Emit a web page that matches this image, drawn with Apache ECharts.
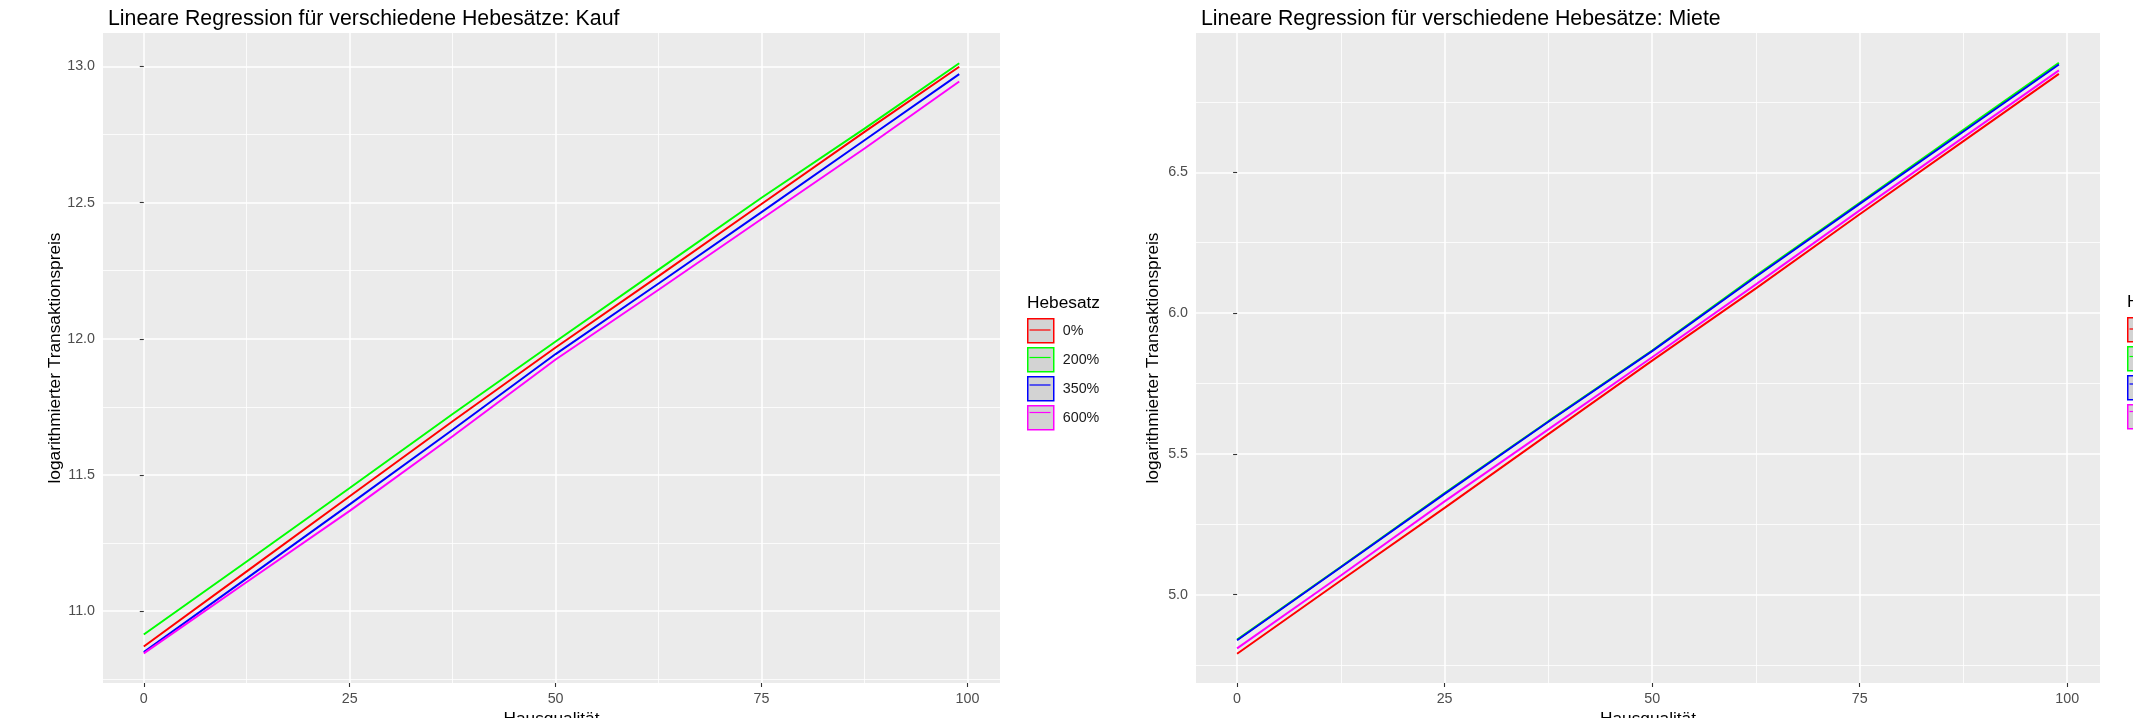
<!DOCTYPE html>
<html>
<head>
<meta charset="utf-8">
<script src="https://cdn.jsdelivr.net/npm/echarts@6/dist/echarts.min.js"></script>
<style>
  html, body { margin: 0; padding: 0; background: #ffffff; }
  #chart { width: 2133px; height: 718px; }
</style>
</head>
<body>
<div id="chart"></div>
<script>
// ---- data ----
const hausqualitaet = [0, 12.5, 25, 37.5, 50, 62.5, 75, 87.5, 99];
const hebesaetze = ['0%', '200%', '350%', '600%'];
const seriesColors = ['#FF0000', '#00FF00', '#0000FF', '#FF00FF'];

const kauf_0   = [10.870, 11.146, 11.422, 11.697, 11.968, 12.230, 12.495, 12.760, 12.999];
const kauf_200 = [10.914, 11.182, 11.452, 11.724, 11.990, 12.254, 12.518, 12.772, 13.012];
const kauf_350 = [10.850, 11.120, 11.392, 11.666, 11.944, 12.203, 12.465, 12.729, 12.972];
const kauf_600 = [10.845, 11.107, 11.368, 11.642, 11.924, 12.180, 12.440, 12.699, 12.945];

const miete_0   = [4.790, 5.050, 5.308, 5.570, 5.831, 6.088, 6.351, 6.611, 6.850];
const miete_200 = [4.840, 5.099, 5.361, 5.616, 5.867, 6.133, 6.392, 6.651, 6.889];
const miete_350 = [4.838, 5.097, 5.358, 5.614, 5.865, 6.129, 6.388, 6.645, 6.883];
const miete_600 = [4.809, 5.068, 5.331, 5.587, 5.843, 6.102, 6.365, 6.624, 6.862];

const xTicks = [0, 25, 50, 75, 100];
const xMinor = [12.5, 37.5, 62.5, 87.5];
const kaufTicks = [11.0, 11.5, 12.0, 12.5, 13.0];
const kaufMinor = [10.75, 11.25, 11.75, 12.25, 12.75];
const mieteTicks = [5.0, 5.5, 6.0, 6.5];
const mieteMinor = [4.75, 5.25, 5.75, 6.25, 6.75];

const titles = ['Lineare Regression für verschiedene Hebesätze: Kauf',
                'Lineare Regression für verschiedene Hebesätze: Miete'];
const xTitle = 'Hausqualität';
const yTitle = 'logarithmierter Transaktionspreis';
const legendTitle = 'Hebesatz';

// ---- chart ----
const FONT = '"Liberation Sans", Arial, sans-serif';
const chart = echarts.init(document.getElementById('chart'), null, { renderer: 'canvas' });

function pairs(ys) { return hausqualitaet.map((x, i) => [x, ys[i]]); }

const grids = [
  { left: 103, top: 33, width: 897, height: 650 },
  { left: 1196, top: 33, width: 904, height: 650 }
];
const yRanges = [[10.736, 13.123], [4.686, 6.995]];
const yMajor = [kaufTicks, mieteTicks];
const yMinorV = [kaufMinor, mieteMinor];

const xAxes = [], yAxes = [];
grids.forEach((g, gi) => {
  xAxes.push({
    type: 'value', gridIndex: gi, position: 'bottom', min: -4.95, max: 103.95,
    axisLine: { show: false },
    axisTick: { show: true, length: 4, customValues: xTicks, lineStyle: { color: '#333333', width: 1.1 } },
    axisLabel: { show: true, customValues: xTicks, margin: 9, color: '#4d4d4d', fontSize: 14.3, fontFamily: FONT,
                 formatter: v => String(Math.round(v)) },
    splitLine: { show: true, lineStyle: { color: '#ffffff', width: 1.5 } },
    name: xTitle, nameLocation: 'middle', nameGap: 27,
    nameTextStyle: { color: '#000000', fontSize: 17.3, fontFamily: FONT }
  });
  xAxes.push({
    type: 'value', gridIndex: gi, position: 'top', min: -4.95, max: 103.95,
    axisLine: { show: false },
    axisTick: { show: false, customValues: xMinor },
    axisLabel: { show: false, customValues: xMinor },
    splitLine: { show: true, lineStyle: { color: '#ffffff', width: 0.8 } }
  });
  yAxes.push({
    type: 'value', gridIndex: gi, position: 'left', min: yRanges[gi][0], max: yRanges[gi][1],
    axisLine: { show: false },
    axisTick: { show: true, length: 4, customValues: yMajor[gi], lineStyle: { color: '#333333', width: 1.1 } },
    axisLabel: { show: true, customValues: yMajor[gi], margin: 8, color: '#4d4d4d', fontSize: 14.3, fontFamily: FONT,
                 formatter: v => v.toFixed(1) },
    splitLine: { show: true, lineStyle: { color: '#ffffff', width: 1.5 } },
    name: yTitle, nameLocation: 'middle', nameGap: 34, nameRotate: 90,
    nameTextStyle: { color: '#000000', fontSize: 17.3, fontFamily: FONT }
  });
  yAxes.push({
    type: 'value', gridIndex: gi, position: 'right', min: yRanges[gi][0], max: yRanges[gi][1],
    axisLine: { show: false },
    axisTick: { show: false, customValues: yMinorV[gi] },
    axisLabel: { show: false, customValues: yMinorV[gi] },
    splitLine: { show: true, lineStyle: { color: '#ffffff', width: 0.8 } }
  });
});

const kaufSets = [kauf_0, kauf_200, kauf_350, kauf_600];
const mieteSets = [miete_0, miete_200, miete_350, miete_600];
const series = [];
[kaufSets, mieteSets].forEach((sets, gi) => {
  sets.forEach((ys, k) => {
    series.push({
      type: 'line', name: hebesaetze[k],
      xAxisIndex: gi * 2, yAxisIndex: gi * 2,
      data: pairs(ys),
      symbol: 'none', smooth: false, animation: false,
      color: seriesColors[k],
      lineStyle: { color: seriesColors[k], width: 2 },
      emphasis: { disabled: true }
    });
  });
});

// legend: gray keys with coloured border (ECharts legend) + coloured line inside each key
const KEY_W = 26, KEY_H = 24, KEY_GAP = 3.5;
function makeLegend(left, top) {
  return {
    data: hebesaetze.map((n, k) => ({
      name: n,
      itemStyle: { color: '#d3d3d3', borderColor: seriesColors[k], borderWidth: 1.5 }
    })),
    orient: 'vertical', left: left, top: top, padding: 0,
    itemWidth: KEY_W, itemHeight: KEY_H, itemGap: KEY_GAP, icon: 'rect', selectedMode: false,
    textStyle: { color: '#1a1a1a', fontSize: 14.3, fontFamily: FONT, padding: [0, 0, 0, 4] }
  };
}
function keyLines(left, top) {
  return hebesaetze.map((n, k) => {
    const y = top + k * (KEY_H + KEY_GAP) + KEY_H / 2;
    return {
      type: 'line', silent: true, z: 200,
      shape: { x1: left + 2.5, y1: y, x2: left + KEY_W - 2.5, y2: y },
      style: { stroke: seriesColors[k], lineWidth: 1.2 }
    };
  });
}
const LEG = [[1027, 318], [2127, 317]];

const option = {
  backgroundColor: '#ffffff',
  animation: false,
  title: [
    { text: titles[0], left: 103, top: 4, textStyle: { color: '#000', fontSize: 21.3, fontWeight: 'normal', fontFamily: FONT } },
    { text: titles[1], left: 1196, top: 4, textStyle: { color: '#000', fontSize: 21.3, fontWeight: 'normal', fontFamily: FONT } },
    { text: legendTitle, left: 1022, top: 290, textStyle: { color: '#000', fontSize: 17.3, fontWeight: 'normal', fontFamily: FONT } },
    { text: legendTitle, left: 2122, top: 289, textStyle: { color: '#000', fontSize: 17.3, fontWeight: 'normal', fontFamily: FONT } }
  ],
  legend: LEG.map(p => makeLegend(p[0], p[1])),
  graphic: [].concat(keyLines(LEG[0][0], LEG[0][1]), keyLines(LEG[1][0], LEG[1][1])),
  grid: grids.map(g => Object.assign({ show: true, backgroundColor: '#ebebeb', borderWidth: 0,
                                       containLabel: false, outerBoundsMode: 'none' }, g)),
  xAxis: xAxes,
  yAxis: yAxes,
  series: series
};
chart.setOption(option);
</script>
</body>
</html>
